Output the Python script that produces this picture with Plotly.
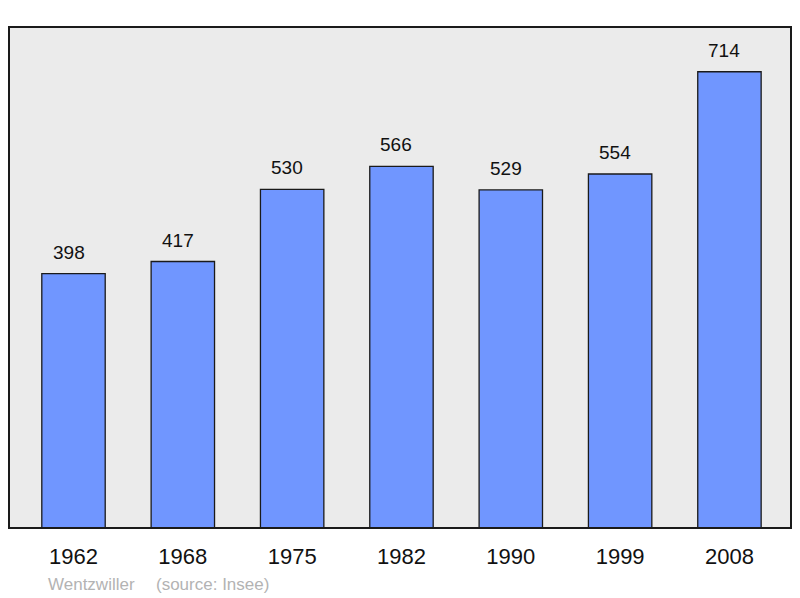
import plotly.graph_objects as go

years = ["1962", "1968", "1975", "1982", "1990", "1999", "2008"]
population = [398, 417, 530, 566, 529, 554, 714]
place = "Wentzwiller"
source = "(source: Insee)"

bar_color = "#7096ff"

fig = go.Figure(go.Bar(
    x=years,
    y=population,
    width=0.58,
    marker=dict(color=bar_color, line=dict(color="#1a1a1a", width=1.3)),
))

# value labels above the bars (sit a little left of centre in the original)
for i, v in enumerate(population):
    fig.add_annotation(x=i, y=v, text=str(v), showarrow=False,
                       yanchor="bottom", yshift=9, xshift=-5,
                       font=dict(size=19, color="#111111"))

# footer: commune name and source
fig.add_annotation(xref="paper", yref="paper", x=0.0473, y=-0.1118,
                   xanchor="left", yanchor="middle", showarrow=False,
                   text=place, font=dict(size=17, color="#b3b3b3"))
fig.add_annotation(xref="paper", yref="paper", x=0.1854, y=-0.1118,
                   xanchor="left", yanchor="middle", showarrow=False,
                   text=source, font=dict(size=17, color="#b3b3b3"))

# frame around the plot area
fig.add_shape(type="rect", xref="paper", yref="paper", x0=0, y0=0, x1=1, y1=1,
              line=dict(color="#1a1a1a", width=2), layer="above")

fig.update_layout(
    width=800, height=598,
    margin=dict(l=9, r=9, t=27, b=70),
    paper_bgcolor="white",
    plot_bgcolor="#ebebeb",
    showlegend=False,
    font=dict(family="Liberation Sans, Arial, sans-serif"),
    xaxis=dict(type="category", range=[-0.59, 6.563], showgrid=False,
               zeroline=False, tickfont=dict(size=22, color="#111111"),
               ticks="outside", ticklen=0, ticklabelstandoff=9),
    yaxis=dict(range=[0, 784], showgrid=False, zeroline=False,
               showticklabels=False),
)

fig.write_html("out.html", config={"displayModeBar": False},
               post_script="document.body.style.margin='0';")
